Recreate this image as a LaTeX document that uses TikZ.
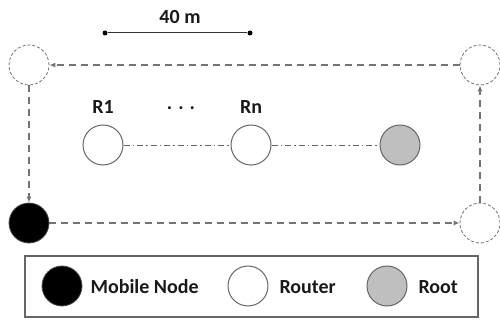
\documentclass[tikz,border=0pt]{standalone}
\usepackage{fontspec}
\setmainfont{Carlito}
\usetikzlibrary{arrows.meta}
\begin{document}
\begin{tikzpicture}[x=1pt,y=-1pt,
  lbl/.style={font=\bfseries\fontsize{20}{24}\selectfont, text=black!90},
  dashcirc/.style={circle, minimum size=40pt, inner sep=0pt, draw=black!55, line width=0.8pt, dash pattern=on 3pt off 2pt, fill=white},
  routercirc/.style={circle, minimum size=40pt, inner sep=0pt, draw=black!60, line width=1pt, fill=white},
  mobilecirc/.style={circle, minimum size=40pt, inner sep=0pt, draw=black!70, line width=0.8pt, fill=black},
  rootcirc/.style={circle, minimum size=40pt, inner sep=0pt, draw=black!60, line width=1pt, fill=black!25},
  movearrow/.style={draw=black!55, line width=1.8pt, dash pattern=on 7pt off 5pt, -{Latex[length=6pt,width=5pt]}},
  linkline/.style={draw=black!60, line width=0.8pt, dash pattern=on 6pt off 3pt on 1.5pt off 3pt},
  scaledot/.style={circle, fill=black, inner sep=0pt, minimum size=5pt}]
\useasboundingbox (0,0) rectangle (500,320);
% corner positions
\node[dashcirc] (tl) at (29,65) {};
\node[dashcirc] (tr) at (480,65) {};
\node[mobilecirc] (bl) at (29,223) {};
\node[dashcirc] (br) at (480,223) {};
\draw[movearrow] (tr) -- (tl);
\draw[movearrow] (tl) -- (bl);
\draw[movearrow] (bl) -- (br);
\draw[movearrow] (br) -- (tr);
% routers
\node[routercirc] (r1) at (103,145) {};
\node[routercirc] (rn) at (251,145) {};
\node[rootcirc] (root) at (400,145) {};
\draw[linkline] (r1) -- (rn);
\draw[linkline] (rn) -- (root);
\node[lbl] (r1l) at (103,107) {R1};
\node[lbl] (dots) at (181,108) {. . .};
\node[lbl] (rnl) at (251,107) {Rn};
% scale bar
\node[scaledot] (s1) at (105,33) {};
\node[scaledot] (s2) at (250,33) {};
\draw[black!80, line width=1pt] (s1) -- (s2);
\node[lbl] (scale) at (180,17) {40 m};
% legend
\node[draw=black!60, line width=1.2pt, minimum width=453pt, minimum height=61pt, inner sep=0pt] (legend) at (251.5,286.5) {};
\node[mobilecirc] (lm) at (62,286) {};
\node[lbl, anchor=west] (lmt) at (87,287) {Mobile Node};
\node[routercirc] (lr) at (248,286) {};
\node[lbl, anchor=west] (lrt) at (276,287) {Router};
\node[rootcirc] (lroot) at (387,286) {};
\node[lbl, anchor=west] (lroott) at (415,287) {Root};
\end{tikzpicture}
\end{document}
